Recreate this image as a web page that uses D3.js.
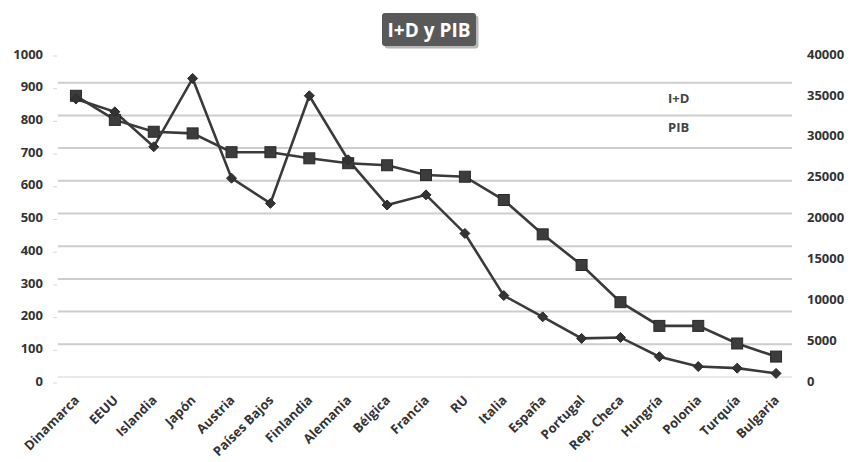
<!DOCTYPE html>
<html><head><meta charset="utf-8">
<script src="https://cdn.jsdelivr.net/npm/d3@7/dist/d3.min.js"></script>
<style>
html,body{margin:0;padding:0;background:#fff;}
svg{display:block;font-family:"Open Sans",sans-serif;}
</style></head>
<body><svg id="chart" width="851" height="462"></svg>
<script>
const categories = ["Dinamarca","EEUU","Islandia","Japón","Austria","Países Bajos","Finlandia","Alemania","Bélgica","Francia","RU","Italia","España","Portugal","Rep. Checa","Hungría","Polonia","Turquía","Bulgaria"];
const idValues = [850, 811, 704, 913, 608, 531, 860, 664, 526, 557, 439, 249, 184, 118, 121, 62, 32, 27, 11];
const pibValues = [34400, 31450, 30000, 29800, 27500, 27500, 26750, 26150, 25900, 24700, 24500, 21650, 17450, 13700, 9150, 6250, 6250, 4100, 2500];
const leftTicks = [0,100,200,300,400,500,600,700,800,900,1000];
const rightTicks = [0,5000,10000,15000,20000,25000,30000,35000,40000];
const seriesNames = ["I+D","PIB"];

const svg = d3.select("#chart");
const x = d3.scaleBand().domain(categories).range([56.5, 795.5]);
const yL = d3.scaleLinear().domain([0,1000]).range([377, 50]);
const yR = d3.scaleLinear().domain([0,40000]).range([377, 50]);
const cx = d => x(d) + x.bandwidth()/2;
const fmt = d3.format("d");
const txtColor = "#333";

// gridlines
svg.append("g").selectAll("line").data(leftTicks.filter(t=>t>0 && t<1000)).join("line")
  .attr("x1", 58).attr("x2", 792)
  .attr("y1", d=>yL(d)).attr("y2", d=>yL(d))
  .attr("stroke", "#cdcdcd").attr("stroke-width", 2);
svg.append("line").attr("x1",58).attr("x2",792).attr("y1",yL(0)).attr("y2",yL(0))
  .attr("stroke","#e2e2e2").attr("stroke-width",1.5);

// left axis
const axL = d3.axisLeft(yL).tickValues(leftTicks).tickFormat(fmt).tickSize(0).tickPadding(0);
const gL = svg.append("g").attr("transform","translate(43,4)").call(axL);
gL.select(".domain").remove();
gL.selectAll("text").attr("font-family","'Open Sans',sans-serif").attr("font-size",13).attr("font-weight",700).attr("fill",txtColor);
// tiny faint ticks
svg.append("g").selectAll("line").data(leftTicks).join("line")
  .attr("x1",53).attr("x2",57).attr("y1",d=>yL(d)+6).attr("y2",d=>yL(d)+6)
  .attr("stroke","#d8d8d8").attr("stroke-width",1);

// right axis
const axR = d3.axisRight(yR).tickValues(rightTicks).tickFormat(fmt).tickSize(0).tickPadding(0);
const gR = svg.append("g").attr("transform","translate(807,4)").call(axR);
gR.select(".domain").remove();
gR.selectAll("text").attr("font-family","'Open Sans',sans-serif").attr("font-size",13).attr("font-weight",700).attr("fill",txtColor);

// x labels
const axB = d3.axisBottom(x).tickSize(0).tickPadding(0);
const gB = svg.append("g").call(axB);
gB.select(".domain").remove();
gB.selectAll(".tick").attr("transform", d=>`translate(${cx(d)+4},401)`);
gB.selectAll("text").attr("x",0).attr("y",0).attr("dy",0)
  .attr("text-anchor","end").attr("transform","rotate(-45)")
  .attr("font-family","'Open Sans',sans-serif").attr("font-size",13).attr("font-weight",700).attr("fill",txtColor);

// lines
const lineColor = "#3a3a3a";
const lineID = d3.line().x((d,i)=>cx(categories[i])).y(d=>yL(d));
const linePIB = d3.line().x((d,i)=>cx(categories[i])).y(d=>yR(d));
svg.append("path").datum(pibValues).attr("d",linePIB).attr("fill","none").attr("stroke",lineColor).attr("stroke-width",2.6);
svg.append("path").datum(idValues).attr("d",lineID).attr("fill","none").attr("stroke",lineColor).attr("stroke-width",2.6);

// markers
svg.append("g").selectAll("rect").data(pibValues).join("rect")
  .attr("x",(d,i)=>cx(categories[i])-5.5).attr("y",d=>yR(d)-5.5)
  .attr("width",11).attr("height",11)
  .attr("fill","#3c3c3c").attr("stroke","#2a2a2a").attr("stroke-width",1);
svg.append("g").selectAll("path").data(idValues).join("path")
  .attr("d",(d,i)=>{const px=cx(categories[i]), py=yL(d), r=5;return `M${px},${py-r}L${px+r},${py}L${px},${py+r}L${px-r},${py}Z`;})
  .attr("fill","#333").attr("stroke","#2a2a2a").attr("stroke-width",1);

// legend
svg.append("g").selectAll("text").data(seriesNames).join("text")
  .attr("x",668).attr("y",(d,i)=>103+i*29)
  .attr("font-family","'Open Sans',sans-serif").attr("font-size",13).attr("font-weight",700).attr("fill","#444")
  .text(d=>d);

// title
const tg = svg.append("g");
tg.append("rect").attr("x",383).attr("y",14).attr("width",94).attr("height",33).attr("rx",3)
  .attr("fill","#b8b8b8").attr("transform","translate(1.5,1.5)");
tg.append("rect").attr("x",382).attr("y",13).attr("width",94).attr("height",33).attr("rx",3)
  .attr("fill","#595959");
tg.append("text").attr("x",429).attr("y",37).attr("text-anchor","middle")
  .attr("font-family","'Open Sans',sans-serif").attr("font-size",19).attr("font-weight",700).attr("fill","#fff")
  .text("I+D y PIB");
</script></body></html>
